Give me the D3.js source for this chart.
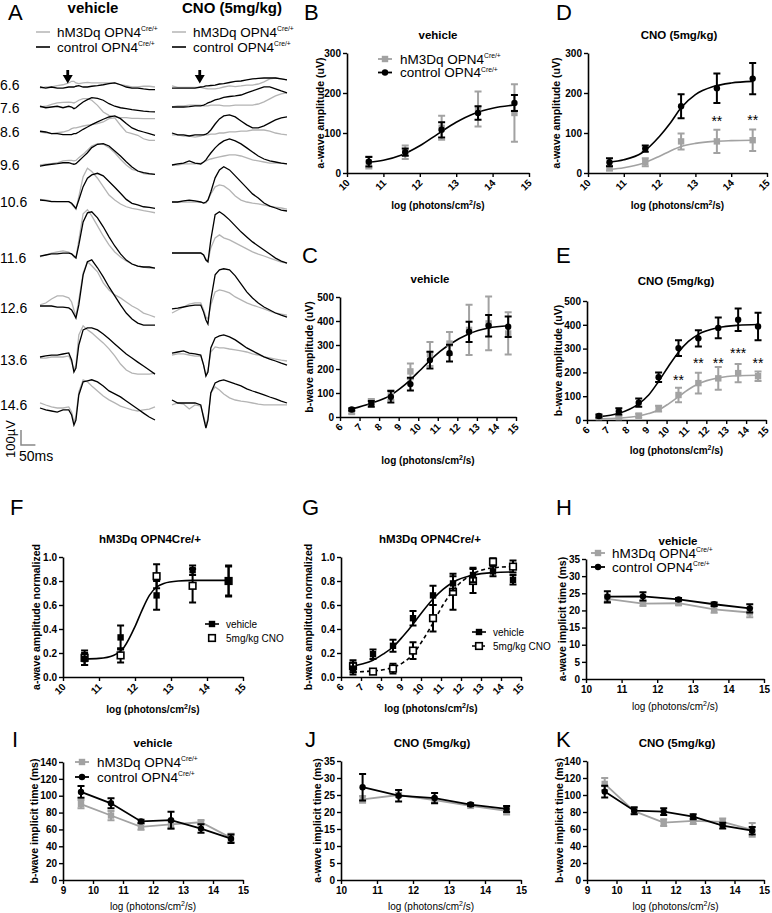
<!DOCTYPE html>
<html><head><meta charset="utf-8">
<script src="https://cdn.jsdelivr.net/npm/d3@7"></script>
<style>body{margin:0;background:#fff}svg{display:block}</style>
</head><body>
<svg id="c" width="772" height="913"></svg>
<script>
// ---------------- DATA ----------------
// Panel A : ERG traces (µV relative to row baseline), sampled at ergTimes (ms)
const ergLevels = ["6.6","7.6","8.6","9.6","10.6","11.6","12.6","13.6","14.6"];
const ergTimes = [0,20,40,60,80,100,110,118,125,135,150,165,180,200,220,240,260,280,300,320,340,360,380,400];
const vehCtrl = [
 [0,-7,0,-7,-7,0,0,0,5,9,0,0,5,9,15,22,27,15,0,-7,-7,-13,-18,-18],
 [5,-5,0,5,-5,5,0,-11,-5,11,33,49,62,58,45,22,5,-5,-11,-18,-22,-27,-31,-33],
 [5,0,-11,-11,-18,-18,-18,-11,-11,0,18,33,49,67,85,100,107,89,56,27,11,0,-11,-22],
 [-7,0,5,9,15,15,9,5,9,27,54,82,116,138,143,127,94,60,22,-13,-40,-51,-58,-62],
 [0,-4,-11,-11,-11,-11,-22,-40,-56,0,89,145,167,178,161,123,85,45,4,-22,-33,-45,-49,-56],
 [-7,0,7,7,13,13,7,-7,-20,67,221,281,288,248,188,121,60,7,-34,-60,-74,-80,-80,-87],
 [0,0,0,-7,-7,-13,-27,-54,-80,7,208,295,308,255,194,127,67,7,-47,-87,-114,-127,-127,-127],
 [0,7,13,13,20,27,-20,-100,-74,80,181,194,194,181,154,121,87,54,20,-7,-34,-60,-87,-114],
 [0,-13,-20,-27,-13,-13,-47,-114,-80,87,174,181,188,174,147,114,94,74,47,20,-7,-34,-60,-80]
];
const vehHm3 = [
 [-7,0,0,9,15,27,38,38,27,22,27,31,27,27,27,27,27,15,9,0,0,5,5,0],
 [0,5,18,27,31,33,31,27,33,45,56,56,45,11,-33,-56,-67,-71,-71,-76,-76,-78,-78,-78],
 [0,-5,-11,-5,0,11,22,27,27,33,40,45,49,56,67,89,94,45,0,-11,-22,-45,-56,-56],
 [0,5,9,15,27,31,31,27,31,49,71,98,127,143,138,116,82,38,0,-29,-40,-58,-62,-62],
 [4,0,-7,-11,-11,-11,-27,-45,-62,22,156,212,190,145,89,33,0,-27,-45,-56,-62,-71,-78,-85],
 [-13,0,13,20,27,20,7,-13,-20,100,275,302,261,194,127,67,20,-13,-40,-60,-74,-80,-87,-87],
 [7,20,47,67,67,54,27,-27,-67,40,221,295,268,228,154,107,74,54,27,0,-20,-47,-60,-74],
 [-7,-7,0,0,0,7,-34,-87,-54,147,208,181,161,127,94,54,7,-47,-87,-107,-114,-114,-114,-107],
 [34,20,7,0,0,7,-27,-94,-54,107,188,174,147,114,80,54,34,13,0,-13,-20,-13,-7,7]
];
const cnoCtrl = [
 [-7,-7,-7,-7,-7,0,3,7,7,10,13,20,23,30,37,40,47,54,57,60,60,60,54,47],
 [0,0,0,3,7,7,13,20,27,34,47,54,64,70,74,80,94,107,121,134,134,121,107,94],
 [0,-13,-13,-20,-13,-13,-13,-7,0,20,60,94,114,121,107,80,54,34,34,47,67,87,101,107],
 [0,7,13,27,13,7,20,34,54,80,114,141,161,174,161,141,114,87,60,40,27,20,13,7],
 [0,0,7,13,7,0,-7,0,13,67,161,214,235,214,174,134,94,54,27,-7,-27,-40,-54,-60],
 [0,0,0,0,0,0,-13,-47,-60,87,255,275,255,221,181,141,107,74,47,20,-7,-34,-54,-67],
 [-13,-7,0,7,13,13,-34,-87,-114,47,214,248,255,248,208,154,101,60,27,0,-20,-40,-54,-67],
 [13,20,27,13,7,0,-67,-141,-114,47,114,127,134,121,101,74,47,27,7,-13,-27,-40,-54,-67],
 [20,0,0,0,0,-13,-100,-167,-114,67,134,147,154,141,127,114,94,80,67,54,40,27,13,0]
];
const cnoHm3 = [
 [7,-3,-3,-3,-3,-3,-7,-10,-13,-13,-13,-7,0,7,3,7,13,13,20,34,54,60,54,47],
 [0,7,7,13,13,13,7,7,7,13,13,13,7,7,13,13,13,13,20,34,54,74,87,94],
 [-13,-13,-20,-20,-27,-20,-13,-13,-13,-7,-7,0,0,7,7,13,13,20,20,20,13,0,-7,-13],
 [0,0,7,7,7,13,20,27,34,40,47,54,60,67,67,60,47,34,27,20,13,13,13,7],
 [0,0,0,0,0,0,-7,-7,13,54,101,114,107,80,40,13,0,-7,-13,-20,-27,-34,-40,-47],
 [0,0,0,0,0,0,-13,-40,-54,34,101,121,101,87,67,47,27,7,-7,-20,-34,-47,-60,-67],
 [-40,-20,0,20,27,27,-20,-67,-80,13,101,114,107,94,67,47,27,13,0,-13,-27,-40,-47,-54],
 [0,7,7,0,-7,-7,-67,-134,-101,20,54,47,47,40,34,27,20,7,0,-13,-20,-27,-34,-40],
 [-13,0,-7,-40,-13,-20,-87,-147,-101,67,107,87,60,34,20,13,7,0,-7,-13,-13,-13,-13,-13]
];

// intensities
const logA = [10.6, 11.6, 12.6, 13.6, 14.6];
const logB = [6.6, 7.6, 8.6, 9.6, 10.6, 11.6, 12.6, 13.6, 14.6];
const logLat = [9.6, 10.6, 11.6, 12.6, 13.6, 14.6];

// B : a-wave amplitude, vehicle
const bCtrl = [28, 52, 108, 150, 175], bCtrlErr = [12, 9, 19, 17, 20];
const bHm3 = [26, 52, 113, 160, 150], bHm3Err = [15, 17, 30, 44, 72];
const bFitX = [10.6, 11, 11.5, 12, 12.5, 13, 13.5, 14, 14.6];
const bFitY = [27, 32, 45, 68, 98, 127, 149, 162, 170];

// C : b-wave amplitude, vehicle
const cCtrl = [31, 55, 84, 137, 237, 266, 355, 380, 376], cCtrlErr = [5, 12, 24, 27, 35, 35, 42, 45, 43];
const cHm3 = [21, 63, 91, 190, 262, 306, 363, 390, 348], cHm3Err = [7, 12, 20, 33, 50, 48, 105, 112, 88];
const cFitX = [6.6, 7.6, 8.6, 9.1, 9.6, 10.1, 10.6, 11.1, 11.6, 12.6, 13.6, 14.6];
const cFitY = [33, 57, 91, 120, 155, 195, 235, 272, 302, 347, 371, 380];

// D : a-wave amplitude, CNO
const dCtrl = [27, 61, 167, 212, 236], dCtrlErr = [10, 8, 30, 37, 39];
const dHm3 = [12, 27, 79, 79, 82], dHm3Err = [6, 10, 20, 29, 27];
const dFitX = [10.6, 11, 11.5, 12, 12.3, 12.6, 13, 13.5, 14, 14.6];
const dCtrlFitY = [27, 33, 50, 92, 125, 163, 196, 216, 225, 229];
const dHm3FitY = [9, 13, 23, 42, 55, 66, 74, 79, 81, 82];
const dStarX = [13.6, 14.6], dStarY = [137, 140], dStarLabel = ["**", "**"];

// E : b-wave amplitude, CNO
const eCtrl = [17, 36, 73, 180, 302, 343, 387, 421, 393], eCtrlErr = [6, 13, 17, 20, 33, 34, 44, 47, 58];
const eHm3 = [12, 12, 18, 48, 105, 155, 175, 197, 184], eHm3Err = [5, 5, 8, 12, 30, 44, 48, 38, 20];
const eFitX = [6.6, 7.6, 8.6, 9.1, 9.6, 10.1, 10.6, 11.1, 11.6, 12.6, 13.6, 14.6];
const eCtrlFitY = [14, 28, 68, 105, 162, 226, 285, 330, 360, 388, 398, 401];
const eHm3FitY = [5, 8, 17, 27, 42, 68, 98, 128, 152, 177, 186, 188];
const eStarX = [10.6, 11.6, 12.6, 13.6, 14.6], eStarY = [180, 252, 252, 294, 252];
const eStarLabel = ["**", "**", "**", "***", "**"];

// F : normalized a-wave, hM3Dq
const fVeh = [0.15, 0.33, 0.68, 0.89, 0.80], fVehErr = [0.05, 0.10, 0.12, 0.04, 0.12];
const fCno = [0.16, 0.18, 0.84, 0.76, 0.80], fCnoErr = [0.06, 0.06, 0.10, 0.14, 0.13];
const fFitX = [10.6, 11, 11.4, 11.7, 12, 12.2, 12.4, 12.6, 12.8, 13.2, 13.6, 14.6];
const fFitY = [0.15, 0.155, 0.18, 0.25, 0.42, 0.56, 0.68, 0.75, 0.78, 0.80, 0.805, 0.805];

// G : normalized b-wave, hM3Dq
const gVeh = [0.07, 0.19, 0.26, 0.49, 0.68, 0.78, 0.85, 0.88, 0.81], gVehErr = [0.05, 0.04, 0.05, 0.06, 0.08, 0.06, 0.06, 0.04, 0.04];
const gCno = [0.09, 0.045, 0.07, 0.22, 0.49, 0.71, 0.80, 0.96, 0.92], gCnoErr = [0.05, 0.01, 0.04, 0.07, 0.11, 0.15, 0.10, 0.03, 0.05];
const gFitX = [6.6, 7.1, 7.6, 8.1, 8.6, 9.1, 9.6, 10.1, 10.6, 11.1, 11.6, 12.6, 13.6, 14.6];
const gVehFitY = [0.09, 0.11, 0.14, 0.19, 0.25, 0.34, 0.44, 0.55, 0.65, 0.73, 0.79, 0.85, 0.87, 0.875];
const gCnoFitY = [0.04, 0.045, 0.05, 0.06, 0.08, 0.12, 0.19, 0.31, 0.45, 0.60, 0.72, 0.86, 0.91, 0.92];

// H : a-wave implicit time, vehicle
const hCtrl = [24.0, 24.1, 23.2, 21.8, 20.6], hCtrlErr = [1.6, 1.2, 0.4, 0.5, 1.2];
const hHm3 = [23.4, 22.0, 22.1, 20.3, 19.4], hHm3Err = [1.2, 0.6, 0.5, 1.0, 1.4];
// I : b-wave implicit time, vehicle
const iCtrl = [104.5, 91, 69.5, 71, 61, 49], iCtrlErr = [7, 6, 2, 10, 5, 5];
const iHm3 = [90, 76.5, 63, 66, 68.5, 50], iHm3Err = [5, 5.5, 3.5, 5.5, 2.5, 5];
// J : a-wave implicit time, CNO
const jCtrl = [27.3, 24.8, 24.1, 22.2, 20.9], jCtrlErr = [3.9, 1.7, 1.5, 0.4, 0.9];
const jHm3 = [23.7, 25.0, 23.5, 21.8, 20.3], jHm3Err = [1.0, 0.6, 0.8, 0.5, 1.0];
// K : b-wave implicit time, CNO
const kCtrl = [104, 81.5, 80.5, 74.5, 64, 58], kCtrlErr = [7, 4, 4, 3, 3.5, 4.5];
const kHm3 = [113, 81, 67.5, 69.5, 68.5, 59], kHm3Err = [7, 3, 4, 3.5, 4, 8];

// tick values
const ticks10to15 = [10, 11, 12, 13, 14, 15];
const ticks6to15 = [6, 7, 8, 9, 10, 11, 12, 13, 14, 15];
const ticks9to15 = [9, 10, 11, 12, 13, 14, 15];
const ticksAmpA = [0, 100, 200, 300];
const ticksAmpB = [0, 100, 200, 300, 400, 500];
const ticksNorm = [0, 0.2, 0.4, 0.6, 0.8, 1.0];
const ticksLatA = [0, 5, 10, 15, 20, 25, 30, 35];
const ticksLatB = [0, 20, 40, 60, 80, 100, 120, 140];

// ---------------- DRAWING ----------------
const FONT = '"Liberation Sans", Arial, Helvetica, sans-serif';
const GRAY = '#a2a2a2';
const TGRAY = '#b4b4b4';
const svg = d3.select('#c').attr('font-family', FONT);

function txt(g, x, y, s, o = {}) {
  const t = g.append('text').attr('x', x).attr('y', y).attr('font-size', o.size || 11)
    .attr('font-weight', o.bold ? 'bold' : 'normal').attr('text-anchor', o.anchor || 'start')
    .attr('fill', o.fill || '#000').text(s);
  if (o.transform) t.attr('transform', o.transform);
  return t;
}
function supText(g, x, y, main, sup, size, anchor) {
  const t = g.append('text').attr('x', x).attr('y', y).attr('font-size', size)
    .attr('text-anchor', anchor || 'start').attr('fill', '#000');
  t.append('tspan').text(main);
  t.append('tspan').attr('dy', -size * 0.42).attr('font-size', size * 0.5).text(sup);
  return t;
}

// ---- Panel A ----
const gA = svg.append('g');
txt(gA, 8, 20, 'A', {size: 22});
txt(gA, 93, 13, 'vehicle', {size: 15, bold: true, anchor: 'middle'});
txt(gA, 232, 13, 'CNO (5mg/kg)', {size: 15, bold: true, anchor: 'middle'});
[[36, 57], [172, 193]].forEach(([lx, tx]) => {
  gA.append('line').attr('x1', lx).attr('x2', lx + 14).attr('y1', 32).attr('y2', 32).attr('stroke', TGRAY).attr('stroke-width', 1.5);
  supText(gA, tx, 37, 'hM3Dq OPN4', 'Cre/+', 13.5);
  gA.append('line').attr('x1', lx).attr('x2', lx + 14).attr('y1', 47).attr('y2', 47).attr('stroke', '#000').attr('stroke-width', 1.6);
  supText(gA, tx, 52, 'control OPN4', 'Cre/+', 13.5);
});
const baseV = [87, 107, 132, 165, 200, 255, 306, 357, 408];
const baseC = [87, 107, 133, 165, 202, 253, 307, 355, 403];
const labY = [90, 113, 137, 170, 207, 263, 313, 365, 410];
ergLevels.forEach((lv, i) => txt(gA, 0, labY[i], lv, {size: 14}));
const uv = d3.scaleLinear().domain([0, 100]).range([0, -15]);
const cols = [
  {x: d3.scaleLinear().domain([0, 400]).range([40, 155]), hm: vehHm3, ct: vehCtrl, base: baseV},
  {x: d3.scaleLinear().domain([0, 400]).range([172, 287]), hm: cnoHm3, ct: cnoCtrl, base: baseC}
];
cols.forEach(c => {
  ergLevels.forEach((lv, i) => {
    const line = d3.line().x((d, j) => c.x(ergTimes[j])).y(d => c.base[i] + uv(d));
    gA.append('path').attr('d', line(c.hm[i])).attr('fill', 'none').attr('stroke', TGRAY).attr('stroke-width', 1.3);
    gA.append('path').attr('d', line(c.ct[i])).attr('fill', 'none').attr('stroke', '#000').attr('stroke-width', 1.3);
  });
  // flash arrow
  const ax = c.x(100) - 1;
  gA.append('path').attr('d', `M${ax - 1.4},70 h2.8 v5 h3.6 l-5,8.5 l-5,-8.5 h3.6 z`).attr('fill', '#000');
});
// scale bar
const sbX = d3.scaleLinear().domain([0, 50]).range([21, 35.4]);
gA.append('path').attr('d', `M${sbX(0)},${445 + uv(100)} V445 H${sbX(50)}`).attr('fill', 'none').attr('stroke', '#888').attr('stroke-width', 1.5);
txt(gA, 15, 439, '100µV', {size: 13, anchor: 'middle', transform: 'rotate(-90,15,439)'});
txt(gA, 19, 461, '50ms', {size: 14});

// ---- generic panel ----
function panel(o) {
  const g = svg.append('g');
  const x = d3.scaleLinear().domain(o.xd).range([o.l, o.r]);
  const y = d3.scaleLinear().domain(o.yd).range([o.b, o.t]);
  const ax = g.append('g').attr('transform', `translate(0,${o.b})`)
    .call(d3.axisBottom(x).tickValues(o.xt).tickSize(4).tickSizeOuter(0).tickFormat(d3.format('d')));
  const ay = g.append('g').attr('transform', `translate(${o.l},0)`)
    .call(d3.axisLeft(y).tickValues(o.yt).tickSize(4).tickSizeOuter(0).tickFormat(o.yf || d3.format('d')));
  [ax, ay].forEach(a => {
    a.attr('font-family', FONT);
    a.select('.domain').attr('stroke', '#000').attr('stroke-width', 1.6);
    a.selectAll('.tick line').attr('stroke', '#000').attr('stroke-width', 1.4);
    a.selectAll('text').attr('font-weight', 'bold').attr('font-size', 10).attr('fill', '#000');
  });
  ay.selectAll('text').attr('x', -6);
  if (o.rot) ax.selectAll('text').attr('x', 0).attr('y', 0).attr('dy', 0).attr('text-anchor', 'end')
    .attr('transform', 'translate(3,10.5) rotate(-45)');
  txt(g, o.letter[1], o.letter[2], o.letter[0], {size: 22});
  txt(g, o.tx, o.ty, o.title, {size: 11.5, bold: true, anchor: 'middle'});
  const xl = g.append('text').attr('x', (o.l + o.r) / 2).attr('y', o.xly).attr('text-anchor', 'middle')
    .attr('font-size', 10).attr('font-weight', o.xlBold ? 'bold' : 'normal');
  xl.append('tspan').text('log (photons/cm');
  xl.append('tspan').attr('dy', -4).attr('font-size', 7).text('2');
  xl.append('tspan').attr('dy', 4).text('/s)');
  txt(g, o.ylx, (o.t + o.b) / 2, o.ylabel, {size: 10.5, bold: true, anchor: 'middle', transform: `rotate(-90,${o.ylx},${(o.t + o.b) / 2})`});
  return {g, x, y};
}
function fit(p, xs, ys, color, dash) {
  p.g.append('path').attr('d', d3.line().curve(d3.curveMonotoneX).x((d, i) => p.x(xs[i])).y(d => p.y(d))(ys))
    .attr('fill', 'none').attr('stroke', color).attr('stroke-width', 1.6).attr('stroke-dasharray', dash || null);
}
function series(p, xs, m, e, o) {
  const color = o.color;
  if (o.line) p.g.append('path').attr('d', d3.line().x((d, i) => p.x(xs[i])).y(d => p.y(d))(m))
    .attr('fill', 'none').attr('stroke', color).attr('stroke-width', 1.8);
  const eg = p.g.append('g').attr('stroke', color).attr('stroke-width', 2).attr('fill', 'none');
  m.forEach((v, i) => {
    const cx = p.x(xs[i]), y1 = p.y(v + e[i]), y2 = p.y(v - e[i]);
    eg.append('path').attr('d', `M${cx},${y1}V${y2}M${cx - 3.5},${y1}h7M${cx - 3.5},${y2}h7`);
  });
  m.forEach((v, i) => marker(p.g, p.x(xs[i]), p.y(v), o.marker, color));
}
function marker(g, cx, cy, type, color) {
  if (type === 'circle') g.append('circle').attr('cx', cx).attr('cy', cy).attr('r', 3.2).attr('fill', color);
  else if (type === 'square') g.append('rect').attr('x', cx - 3.2).attr('y', cy - 3.2).attr('width', 6.4).attr('height', 6.4).attr('fill', color);
  else g.append('rect').attr('x', cx - 3.3).attr('y', cy - 3.3).attr('width', 6.6).attr('height', 6.6).attr('fill', '#fff').attr('stroke', '#000').attr('stroke-width', 1.6);
}
function legendGroups(g, mx, y0, dy, tx, size) {
  g.append('line').attr('x1', mx - 7).attr('x2', mx + 7).attr('y1', y0).attr('y2', y0).attr('stroke', GRAY).attr('stroke-width', 1.8);
  marker(g, mx, y0, 'square', GRAY);
  supText(g, tx, y0 + size * 0.36, 'hM3Dq OPN4', 'Cre/+', size);
  g.append('line').attr('x1', mx - 7).attr('x2', mx + 7).attr('y1', y0 + dy).attr('y2', y0 + dy).attr('stroke', '#000').attr('stroke-width', 1.8);
  marker(g, mx, y0 + dy, 'circle', '#000');
  supText(g, tx, y0 + dy + size * 0.36, 'control OPN4', 'Cre/+', size);
}
function stars(p, xs, ys, labels) {
  xs.forEach((xv, i) => txt(p.g, p.x(xv), p.y(ys[i]) + 8, labels[i], {size: 14, anchor: 'middle'}));
}

// ---- B ----
const pB = panel({l: 347, r: 529, t: 53, b: 173, xd: [10, 15], yd: [0, 300], xt: ticks10to15, yt: ticksAmpA, rot: true,
  letter: ['B', 304, 20], title: 'vehicle', tx: 438, ty: 39, xly: 209, xlBold: true, ylabel: 'a-wave amplitude (uV)', ylx: 324});
fit(pB, bFitX, bFitY, '#000');
series(pB, logA, bHm3, bHm3Err, {color: GRAY, marker: 'square'});
series(pB, logA, bCtrl, bCtrlErr, {color: '#000', marker: 'circle'});
legendGroups(pB.g, 385, 59, 13.5, 400, 13.5);

// ---- D ----
const pD = panel({l: 588, r: 767, t: 53, b: 173, xd: [10, 15], yd: [0, 300], xt: ticks10to15, yt: ticksAmpA, rot: true,
  letter: ['D', 556, 20], title: 'CNO (5mg/kg)', tx: 679, ty: 39, xly: 209, xlBold: true, ylabel: 'a-wave amplitude (uV)', ylx: 560});
fit(pD, dFitX, dHm3FitY, GRAY);
fit(pD, dFitX, dCtrlFitY, '#000');
series(pD, logA, dHm3, dHm3Err, {color: GRAY, marker: 'square'});
series(pD, logA, dCtrl, dCtrlErr, {color: '#000', marker: 'circle'});
stars(pD, dStarX, dStarY, dStarLabel);

// ---- C ----
const pC = panel({l: 340, r: 516, t: 297, b: 417, xd: [6, 15], yd: [0, 500], xt: ticks6to15, yt: ticksAmpB, rot: true,
  letter: ['C', 302, 263], title: 'vehicle', tx: 430, ty: 283, xly: 464, xlBold: true, ylabel: 'b-wave amplitude (uV)', ylx: 313});
fit(pC, cFitX, cFitY, '#000');
series(pC, logB, cHm3, cHm3Err, {color: GRAY, marker: 'square'});
series(pC, logB, cCtrl, cCtrlErr, {color: '#000', marker: 'circle'});

// ---- E ----
const pE = panel({l: 587, r: 766, t: 301, b: 420, xd: [6, 15], yd: [0, 500], xt: ticks6to15, yt: ticksAmpB, rot: true,
  letter: ['E', 556, 263], title: 'CNO (5mg/kg)', tx: 676, ty: 285, xly: 454, xlBold: true, ylabel: 'b-wave amplitude (uV)', ylx: 562});
fit(pE, eFitX, eHm3FitY, GRAY);
fit(pE, eFitX, eCtrlFitY, '#000');
series(pE, logB, eHm3, eHm3Err, {color: GRAY, marker: 'square'});
series(pE, logB, eCtrl, eCtrlErr, {color: '#000', marker: 'circle'});
stars(pE, eStarX, eStarY, eStarLabel);

// ---- F ----
const pF = panel({l: 63, r: 243, t: 557, b: 677, xd: [10, 15], yd: [0, 1], xt: ticks10to15, yt: ticksNorm, yf: d3.format('.1f'), rot: true,
  letter: ['F', 10, 515], title: 'hM3Dq OPN4Cre/+', tx: 150, ty: 543, xly: 713, xlBold: true, ylabel: 'a-wave amplitude normalized', ylx: 40});
fit(pF, fFitX, fFitY, '#000');
series(pF, logA, fCno, fCnoErr, {color: '#000', marker: 'open'});
series(pF, logA, fVeh, fVehErr, {color: '#000', marker: 'square'});
pF.g.append('line').attr('x1', 205).attr('x2', 219).attr('y1', 624).attr('y2', 624).attr('stroke', '#000').attr('stroke-width', 1.6);
marker(pF.g, 212, 624, 'square', '#000');
txt(pF.g, 226, 628, 'vehicle', {size: 10});
marker(pF.g, 212, 638, 'open', '#000');
txt(pF.g, 226, 642, '5mg/kg CNO', {size: 10});

// ---- G ----
const pG = panel({l: 341, r: 521, t: 557, b: 677, xd: [6, 15], yd: [0, 1], xt: ticks6to15, yt: ticksNorm, yf: d3.format('.1f'), rot: true,
  letter: ['G', 302, 515], title: 'hM3Dq OPN4Cre/+', tx: 430, ty: 543, xly: 712, xlBold: true, ylabel: 'b-wave amplitude normalized', ylx: 312});
fit(pG, gFitX, gCnoFitY, '#000', '4,3');
fit(pG, gFitX, gVehFitY, '#000');
series(pG, logB, gCno, gCnoErr, {color: '#000', marker: 'open'});
series(pG, logB, gVeh, gVehErr, {color: '#000', marker: 'square'});
pG.g.append('line').attr('x1', 472).attr('x2', 486).attr('y1', 632).attr('y2', 632).attr('stroke', '#000').attr('stroke-width', 1.6);
marker(pG.g, 479, 632, 'square', '#000');
txt(pG.g, 493, 636, 'vehicle', {size: 10});
pG.g.append('line').attr('x1', 472).attr('x2', 486).attr('y1', 646).attr('y2', 646).attr('stroke', '#000').attr('stroke-width', 1.4).attr('stroke-dasharray', '3,2');
marker(pG.g, 479, 646, 'open', '#000');
txt(pG.g, 493, 650, '5mg/kg CNO', {size: 10});

// ---- H ----
const pH = panel({l: 586, r: 764, t: 559, b: 679, xd: [10, 15], yd: [0, 35], xt: ticks10to15, yt: ticksLatA, rot: false,
  letter: ['H', 556, 515], title: 'vehicle', tx: 678, ty: 545, xly: 710, xlBold: false, ylabel: 'a-wave implicit time (ms)', ylx: 566});
series(pH, logA, hHm3, hHm3Err, {color: GRAY, marker: 'square', line: true});
series(pH, logA, hCtrl, hCtrlErr, {color: '#000', marker: 'circle', line: true});
legendGroups(pH.g, 598, 553, 14, 612, 13.5);

// ---- I ----
const pI = panel({l: 63, r: 243, t: 762, b: 880, xd: [9, 15], yd: [0, 140], xt: ticks9to15, yt: ticksLatB, rot: false,
  letter: ['I', 12, 747], title: 'vehicle', tx: 153, ty: 747, xly: 910, xlBold: false, ylabel: 'b-wave implicit time (ms)', ylx: 38});
series(pI, logLat, iHm3, iHm3Err, {color: GRAY, marker: 'square', line: true});
series(pI, logLat, iCtrl, iCtrlErr, {color: '#000', marker: 'circle', line: true});
legendGroups(pI.g, 82, 762, 15, 97, 13.5);

// ---- J ----
const pJ = panel({l: 341, r: 521, t: 761, b: 880, xd: [10, 15], yd: [0, 35], xt: ticks10to15, yt: ticksLatA, rot: false,
  letter: ['J', 305, 747], title: 'CNO (5mg/kg)', tx: 432, ty: 747, xly: 910, xlBold: false, ylabel: 'a-wave implicit time (ms)', ylx: 321});
series(pJ, logA, jHm3, jHm3Err, {color: GRAY, marker: 'square', line: true});
series(pJ, logA, jCtrl, jCtrlErr, {color: '#000', marker: 'circle', line: true});

// ---- K ----
const pK = panel({l: 587, r: 764, t: 761, b: 880, xd: [9, 15], yd: [0, 140], xt: ticks9to15, yt: ticksLatB, rot: false,
  letter: ['K', 556, 747], title: 'CNO (5mg/kg)', tx: 677, ty: 747, xly: 910, xlBold: false, ylabel: 'b-wave implicit time (ms)', ylx: 563});
series(pK, logLat, kHm3, kHm3Err, {color: GRAY, marker: 'square', line: true});
series(pK, logLat, kCtrl, kCtrlErr, {color: '#000', marker: 'circle', line: true});
</script>
</body></html>
